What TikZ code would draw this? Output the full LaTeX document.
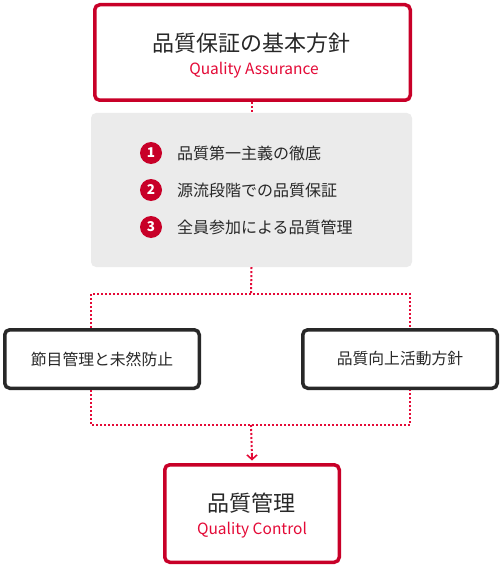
\documentclass[tikz,border=0pt]{standalone}
\usepackage{fontspec}
\setmainfont{Noto Sans CJK JP}
\usetikzlibrary{positioning,arrows.meta}
\definecolor{qred}{RGB}{200,0,40}
\definecolor{qdot}{RGB}{228,10,55}
\definecolor{qtxt}{RGB}{40,40,40}
\definecolor{qgray}{RGB}{235,235,235}
\definecolor{qdark}{RGB}{40,40,40}

\begin{document}
\begin{tikzpicture}[x=1pt, y=1pt, text=qtxt,
  redbox/.style={draw=qred, line width=3.5pt, rounded corners=5pt, fill=white, inner sep=0pt},
  darkbox/.style={draw=qdark, line width=3.5pt, rounded corners=5pt, fill=white, inner sep=0pt,
    minimum width=194.5pt, minimum height=58.5pt, font=\fontsize{15.8}{18}\selectfont},
  title/.style={font=\fontsize{22}{26}\selectfont, inner sep=0pt},
  subtitle/.style={text=qdot, font=\fontsize{15.5}{18}\selectfont, inner sep=0pt},
  link/.style={draw=qdot, line width=2pt, dash pattern=on 2pt off 2pt},
  num/.style={circle, fill=qred, text=white, inner sep=0pt, minimum size=22pt,
    font=\bfseries\fontsize{13.5}{15}\selectfont}]
\useasboundingbox (0,0) rectangle (502,-567);
% boxes
\node[redbox, minimum width=315.5pt, minimum height=95.5pt] (qa) at (252.5,-52.5) {};
\node[title] (qatitle) at (251,-43) {品質保証の基本方針};
\node[subtitle] (qasub) at (254,-70) {Quality Assurance};
\node[fill=qgray, rounded corners=5pt, minimum width=321pt, minimum height=154pt] (policy) at (251.5,-190) {};
\foreach \i/\y/\lab in {1/153/品質第一主義の徹底, 2/190/源流段階での品質保証, 3/227/全員参加による品質管理} {
  \node[num] (n\i) at (151,-\y) {\i};
  \node[anchor=west, inner sep=0pt, font=\fontsize{16}{19}\selectfont] (t\i) at (177,-\y) {\lab};
}
\node[darkbox] (kanri) at (102,-359) {節目管理と未然防止};
\node[darkbox] (kojo) at (400,-359) {品質向上活動方針};
\node[redbox, minimum width=174.5pt, minimum height=97.5pt] (qc) at (252,-513.5) {};
\node[title] (qctitle) at (251,-503) {品質管理};
\node[subtitle] (qcsub) at (252,-530) {Quality Control};
% connectors
\coordinate (split) at (251,-294);
\coordinate (splitl) at (91,-294);
\coordinate (splitr) at (410,-294);
\coordinate (merge) at (251,-425);
\coordinate (mergel) at (91,-425);
\coordinate (merger) at (410,-425);
\draw[link] (qa.south -| policy.north) -- (policy.north);
\draw[link] (policy.south) -- (split);
\draw[link] (splitl |- kanri.north) -- (splitl) -- (splitr) -- (splitr |- kojo.north);
\draw[link] (mergel |- kanri.south) -- (mergel) -- (merger) -- (merger |- kojo.south);
\draw[link] (merge) -- ([yshift=5pt]qc.north);
\draw[qdot, line width=1.6pt, -{Straight Barb[length=4.5pt, width=10pt]}] ([yshift=9pt]qc.north) -- ([yshift=2.5pt]qc.north);
\end{tikzpicture}
\end{document}
